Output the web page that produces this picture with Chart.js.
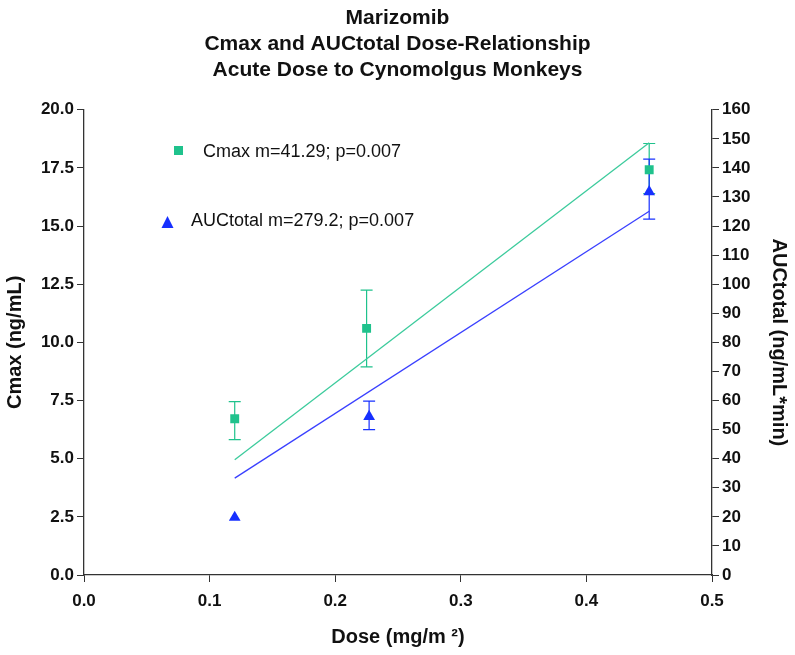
<!DOCTYPE html>
<html>
<head>
<title>Marizomib Cmax and AUCtotal</title>
<script src="https://cdn.jsdelivr.net/npm/chart.js"></script>
<style>
body { margin:0; background:white; }
#wrap { width:795px; height:655px; }
</style>
</head>
<body>
<div id="wrap"><canvas id="chart" width="795" height="655"></canvas></div>
<script>
// ---------------- DATA ----------------
const cmaxDose = [0.12, 0.225, 0.45];
const cmaxVal  = [6.72, 10.6, 17.42];
const cmaxLow  = [5.82, 8.95, 16.4];
const cmaxHigh = [7.45, 12.25, 18.55];

const aucDose = [0.12, 0.227, 0.45];
const aucVal  = [19.8, 54.5, 131.8];
const aucLow  = [null, 50.0, 122.4];
const aucHigh = [null, 59.8, 143.0];

// fitted lines, end points
const cmaxFitDose = [0.12, 0.45];
const cmaxFitVal  = [4.95, 18.58];
const aucFitDose  = [0.12, 0.45];
const aucFitVal   = [33.3, 125.1];

const xTicks = [0, 0.1, 0.2, 0.3, 0.4, 0.5];

const GREEN = "#1fc28c";
const BLUE = "#1730ff";
const AXIS = "#333333";
const FONT = "'Liberation Sans', Arial, sans-serif";

function pts(xs, ys){ return xs.map((x,i)=>({x:x, y:ys[i]})); }

// ---------------- ERROR BARS ----------------
const errorBars = {
    id:"errorBars",
    beforeDatasetsDraw(chart){
        const ctx = chart.ctx;
        const sx = chart.scales.x;
        function bars(xs, lo, hi, scale, color){
            ctx.save();
            ctx.strokeStyle = color;
            ctx.lineWidth = 1.2;
            xs.forEach((x,i)=>{
                if(lo[i]==null) return;
                const px = sx.getPixelForValue(x);
                const y1 = scale.getPixelForValue(lo[i]);
                const y2 = scale.getPixelForValue(hi[i]);
                ctx.beginPath();
                ctx.moveTo(px,y1); ctx.lineTo(px,y2);
                ctx.moveTo(px-6,y1); ctx.lineTo(px+6,y1);
                ctx.moveTo(px-6,y2); ctx.lineTo(px+6,y2);
                ctx.stroke();
            });
            ctx.restore();
        }
        bars(cmaxDose, cmaxLow, cmaxHigh, chart.scales.y, GREEN);
        bars(aucDose, aucLow, aucHigh, chart.scales.y2, BLUE);
    }
};

// ---------------- LEGEND IN PLOT ----------------
const innerLegend = {
    id:"innerLegend",
    afterDraw(chart){
        const ctx = chart.ctx;
        ctx.save();
        ctx.font = "18px " + FONT;
        ctx.textBaseline = "middle";

        ctx.fillStyle = GREEN;
        ctx.fillRect(174,146,9,9);
        ctx.fillStyle = "#111";
        ctx.fillText("Cmax m=41.29; p=0.007", 203, 152);

        ctx.fillStyle = BLUE;
        ctx.beginPath();
        ctx.moveTo(167.5,216); ctx.lineTo(173.5,228); ctx.lineTo(161.5,228);
        ctx.closePath(); ctx.fill();
        ctx.fillStyle = "#111";
        ctx.fillText("AUCtotal m=279.2; p=0.007", 191, 221);
        ctx.restore();
    }
};

// ---------------- CHART ----------------
new Chart(document.getElementById("chart"), {
    type:"scatter",
    data:{
        datasets:[
            {
                label:"Cmax fit", type:"line", data:pts(cmaxFitDose, cmaxFitVal),
                yAxisID:"y", borderColor:"#3ccb9c", borderWidth:1.3,
                pointRadius:0, fill:false
            },
            {
                label:"AUCtotal fit", type:"line", data:pts(aucFitDose, aucFitVal),
                yAxisID:"y2", borderColor:"#3a40ff", borderWidth:1.3,
                pointRadius:0, fill:false
            },
            {
                label:"Cmax", data:pts(cmaxDose, cmaxVal), yAxisID:"y",
                pointStyle:"rect", pointRadius:6.3,
                backgroundColor:GREEN, borderColor:GREEN, borderWidth:0
            },
            {
                label:"AUCtotal", data:pts(aucDose, aucVal), yAxisID:"y2",
                pointStyle:"triangle", pointRadius:6.8,
                backgroundColor:BLUE, borderColor:BLUE, borderWidth:0
            }
        ]
    },
    options:{
        responsive:false,
        animation:false,
        layout:{ padding:{ left:0, right:0, top:0, bottom:0 } },
        plugins:{
            legend:{ display:false },
            tooltip:{ enabled:false },
            title:{
                display:true,
                text:["Marizomib", "Cmax and AUCtotal Dose-Relationship", "Acute Dose to Cynomolgus Monkeys"],
                color:"#111",
                font:{ family:FONT, size:21, weight:"bold", lineHeight:1.25 },
                padding:{ top:5, bottom:26 }
            }
        },
        scales:{
            x:{
                type:"linear", min:0, max:0.5,
                afterBuildTicks(s){ s.ticks = xTicks.map(v=>({value:v})); },
                afterFit(s){ s.height = 80; },
                border:{ color:AXIS, width:1.3 },
                grid:{ drawOnChartArea:false, drawTicks:true, tickLength:7, color:AXIS },
                ticks:{
                    color:"#111", padding:9,
                    font:{ family:FONT, size:17, weight:"bold" },
                    callback:v=>v.toFixed(1)
                },
                title:{
                    display:true, text:"Dose (mg/m ²)", color:"#111",
                    font:{ family:FONT, size:20, weight:"bold" },
                    padding:{ top:4, bottom:6 }
                }
            },
            y:{
                position:"left", min:0, max:20,
                afterFit(s){ s.width = 84; },
                border:{ color:AXIS, width:1.3 },
                grid:{ drawOnChartArea:false, drawTicks:true, tickLength:7, color:AXIS },
                ticks:{
                    stepSize:2.5, color:"#111", padding:3,
                    font:{ family:FONT, size:17, weight:"bold" },
                    callback:v=>v.toFixed(1)
                },
                title:{
                    display:true, text:"Cmax (ng/mL)", color:"#111",
                    font:{ family:FONT, size:20, weight:"bold" },
                    padding:{ top:3, bottom:4 }
                }
            },
            y2:{
                position:"right", min:0, max:160,
                afterFit(s){ s.width = 83; },
                border:{ color:AXIS, width:1.3 },
                grid:{ drawOnChartArea:false, drawTicks:true, tickLength:7, color:AXIS },
                ticks:{
                    stepSize:10, color:"#111", padding:3,
                    font:{ family:FONT, size:17, weight:"bold" }
                },
                title:{
                    display:true, text:"AUCtotal (ng/mL*min)", color:"#111",
                    font:{ family:FONT, size:20, weight:"bold" },
                    padding:{ top:4, bottom:4 }
                }
            }
        }
    },
    plugins:[errorBars, innerLegend]
});
</script>
</body>
</html>
